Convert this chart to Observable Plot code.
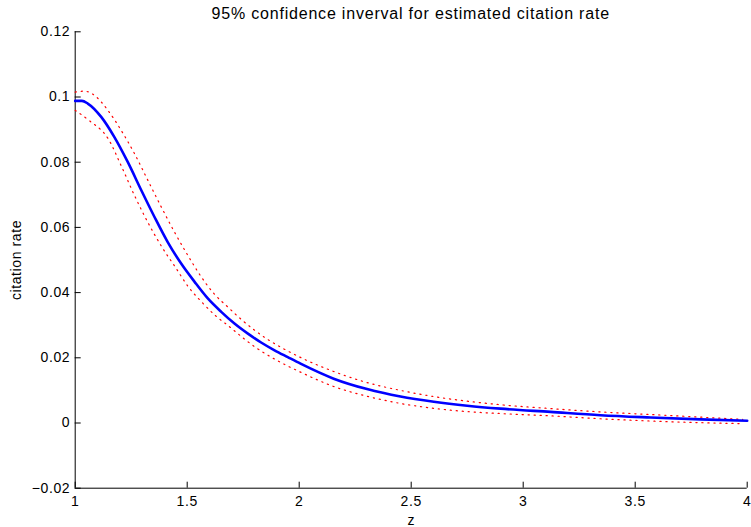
<!DOCTYPE html>
<html>
<head>
<meta charset="utf-8">
<script src="https://cdn.jsdelivr.net/npm/d3@7"></script>
<script src="https://cdn.jsdelivr.net/npm/@observablehq/plot@0.6"></script>
<style>
  html, body { margin: 0; padding: 0; background: #fff; }
  #title { box-sizing: border-box; height: 24px; width: 751px; padding-left: 74.7px; padding-right: 4.3px;
           text-align: center; font: 16px "Liberation Sans", Arial, sans-serif; letter-spacing: 0.8px;
           line-height: 24px; color: #000; padding-top: 2px; white-space: nowrap; }
  #chart svg text { letter-spacing: 0.6px; }
</style>
</head>
<body>
<div id="title">95% confidence inverval for estimated citation rate</div>
<div id="chart"></div>
<script>
// Estimated citation rate (blue solid line)
const zFit = [1.000, 1.030, 1.056, 1.116, 1.175, 1.235, 1.295, 1.354, 1.413, 1.473, 1.533, 1.592, 1.652, 1.711, 1.771, 1.830, 1.890, 1.949, 2.006, 2.154, 2.303, 2.452, 2.601, 2.750, 2.899, 3.122, 3.345, 3.568, 3.791, 4.000];
const rateFit = [0.0988, 0.0988, 0.0980, 0.0939, 0.0877, 0.0800, 0.0714, 0.0632, 0.0555, 0.0489, 0.0433, 0.0382, 0.0341, 0.0305, 0.0274, 0.0247, 0.0223, 0.0202, 0.0182, 0.0136, 0.0104, 0.0081, 0.0065, 0.0053, 0.0044, 0.0034, 0.0024, 0.0017, 0.0011, 0.0007];

// Upper 95% bound (red dotted)
const zUpper = [1.000, 1.040, 1.086, 1.146, 1.205, 1.265, 1.324, 1.384, 1.443, 1.503, 1.563, 1.622, 1.681, 1.741, 1.800, 1.860, 1.919, 2.009, 2.154, 2.303, 2.452, 2.601, 2.750, 2.899, 3.107, 3.345, 3.568, 3.790, 3.980];
const rateUpper = [0.1015, 0.1018, 0.1005, 0.0959, 0.0898, 0.0826, 0.0745, 0.0663, 0.0586, 0.0514, 0.0448, 0.0395, 0.0356, 0.0318, 0.0285, 0.0256, 0.0232, 0.0200, 0.0158, 0.0124, 0.0100, 0.0081, 0.0067, 0.0056, 0.0045, 0.0034, 0.0026, 0.0018, 0.0011];

// Lower 95% bound (red dotted)
const zLower = [1.000, 1.060, 1.149, 1.208, 1.268, 1.327, 1.387, 1.446, 1.506, 1.565, 1.625, 1.684, 1.744, 1.803, 1.893, 2.006, 2.154, 2.303, 2.452, 2.601, 2.750, 2.899, 3.120, 3.345, 3.568, 3.790, 3.980];
const rateLower = [0.0959, 0.0929, 0.0870, 0.0785, 0.0693, 0.0612, 0.0540, 0.0479, 0.0417, 0.0371, 0.0330, 0.0298, 0.0264, 0.0233, 0.0195, 0.0156, 0.0112, 0.0082, 0.0060, 0.0045, 0.0035, 0.0029, 0.0022, 0.0013, 0.0006, 0.0001, -0.0002];

const xTicks = [1, 1.5, 2, 2.5, 3, 3.5, 4];
const yTicks = [-0.02, 0, 0.02, 0.04, 0.06, 0.08, 0.1, 0.12];

const fit = zFit.map((z, i) => ({z, rate: rateFit[i]}));
const upper = zUpper.map((z, i) => ({z, rate: rateUpper[i]}));
const lower = zLower.map((z, i) => ({z, rate: rateLower[i]}));

const fmt = d => d < 0 ? "\u2212" + String(Math.abs(d)) : String(d);

const chart = Plot.plot({
  width: 751,
  height: 503,
  marginLeft: 74.7,
  marginRight: 4.3,
  marginTop: 7.3,
  marginBottom: 39.3,
  style: {fontFamily: "'Liberation Sans', Arial, sans-serif", fontSize: "13px", color: "#000", background: "#fff"},
  x: {domain: [1, 4]},
  y: {domain: [-0.02, 0.12]},
  marks: [
    Plot.axisY({ticks: yTicks, tickSize: 0, tickPadding: 5, tickFormat: fmt, label: "citation rate", labelArrow: "none", labelAnchor: "center", labelOffset: 64, fontSize: 14}),
    Plot.axisY({ticks: yTicks, tickSize: 6, dx: 6, fill: "none", label: null, stroke: "#000"}),
    Plot.axisX({ticks: xTicks, tickSize: 0, tickPadding: 8, tickFormat: fmt, label: "z", labelArrow: "none", labelAnchor: "center", labelOffset: 37, fontSize: 14}),
    Plot.axisX({ticks: xTicks, tickSize: 6, dy: -6, fill: "none", label: null, stroke: "#000"}),
    Plot.ruleX([1], {stroke: "#000", strokeWidth: 1}),
    Plot.ruleY([-0.02], {stroke: "#000", strokeWidth: 1}),
    Plot.line(upper, {x: "z", y: "rate", stroke: "#ff0000", strokeWidth: 1.2, strokeDasharray: "1.2 4.8", curve: "monotone-x"}),
    Plot.line(lower, {x: "z", y: "rate", stroke: "#ff0000", strokeWidth: 1.2, strokeDasharray: "1.2 4.8", curve: "monotone-x"}),
    Plot.line(fit, {x: "z", y: "rate", stroke: "#0000ff", strokeWidth: 2.6, curve: "monotone-x"})
  ]
});
document.getElementById("chart").appendChild(chart);
</script>
</body>
</html>
